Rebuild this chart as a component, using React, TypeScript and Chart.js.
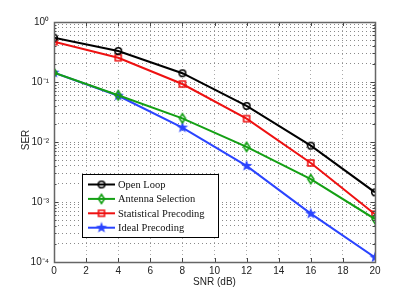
import React, { useEffect, useRef } from "react";
import { Chart, registerables } from "chart.js";
Chart.register(...registerables);

const snr = [0, 4, 8, 12, 16, 20];
const openLoop = [0.547, 0.329, 0.14, 0.04, 0.0087, 0.00145];
const antennaSel = [0.143, 0.06, 0.0248, 0.0083, 0.0024, 0.00052];
const statPrec = [0.47, 0.254, 0.0926, 0.0245, 0.00447, 0.000624];
const idealPrec = [0.143, 0.059, 0.0174, 0.004, 0.00064, 0.000119];
const seriesNames = ["Open Loop", "Antenna Selection", "Statistical Precoding", "Ideal Precoding"];
const xTickValues = [0, 2, 4, 6, 8, 10, 12, 14, 16, 18, 20];
const yDecades = [-4, -3, -2, -1, 0];
const xTitle = "SNR (dB)";
const yTitle = "SER";

const COLORS = ["#000000", "#14a014", "#ee1111", "#2a44ff"];
const SUP: Record<string, string> = {
  "-": "\u207B", "0": "\u2070", "1": "\u00B9", "2": "\u00B2", "3": "\u00B3", "4": "\u2074",
};

function markerCanvas(kind: string, color: string): HTMLCanvasElement {
  const size = 14;
  const c = document.createElement("canvas");
  c.width = size;
  c.height = size;
  const ctx = c.getContext("2d")!;
  const cx = size / 2, cy = size / 2;
  ctx.strokeStyle = color;
  ctx.fillStyle = color;
  ctx.lineWidth = 1.6;
  ctx.beginPath();
  if (kind === "circle") {
    ctx.arc(cx, cy, 3.3, 0, Math.PI * 2);
    ctx.stroke();
  } else if (kind === "diamond") {
    ctx.moveTo(cx, cy - 4.5);
    ctx.lineTo(cx + 3, cy);
    ctx.lineTo(cx, cy + 4.5);
    ctx.lineTo(cx - 3, cy);
    ctx.closePath();
    ctx.stroke();
  } else if (kind === "square") {
    ctx.rect(cx - 3, cy - 3, 6, 6);
    ctx.stroke();
  } else {
    const R = 6, r = 2.4;
    for (let i = 0; i < 10; i++) {
      const ang = -Math.PI / 2 + (i * Math.PI) / 5;
      const rad = i % 2 === 0 ? R : r;
      const px = cx + rad * Math.cos(ang), py = cy + rad * Math.sin(ang);
      if (i === 0) ctx.moveTo(px, py); else ctx.lineTo(px, py);
    }
    ctx.closePath();
    ctx.fill();
  }
  return c;
}

function yTickValuesAll(): number[] {
  const out: number[] = [];
  for (const d of yDecades) {
    const base = Math.pow(10, d);
    if (d === 0) { out.push(1); break; }
    for (let k = 1; k <= 9; k++) out.push(k * base);
  }
  return out;
}

function isDecade(v: number): boolean {
  const l = Math.log10(v);
  return Math.abs(l - Math.round(l)) < 1e-6;
}

function decadeLabel(v: number): string {
  const e = String(Math.round(Math.log10(v)));
  return "10" + e.split("").map((ch) => SUP[ch] || ch).join("");
}

export default function App() {
  const ref = useRef<HTMLCanvasElement | null>(null);
  useEffect(() => {
    document.body.style.margin = "0";
    const markers = [
      markerCanvas("circle", COLORS[0]),
      markerCanvas("diamond", COLORS[1]),
      markerCanvas("square", COLORS[2]),
      markerCanvas("star", COLORS[3]),
    ];
    const seriesData = [openLoop, antennaSel, statPrec, idealPrec];
    const yTicks = yTickValuesAll();

    const framePlugin = {
      id: "frame",
      afterDraw(chart: any) {
        const ctx = chart.ctx as CanvasRenderingContext2D;
        const a = chart.chartArea;
        const xs = chart.scales.x;
        const ys = chart.scales.y;
        ctx.save();
        // inward ticks
        ctx.strokeStyle = "#444";
        ctx.lineWidth = 1;
        ctx.beginPath();
        for (const v of xTickValues) {
          const px = Math.round(xs.getPixelForValue(v)) + 0.5;
          ctx.moveTo(px, a.bottom);
          ctx.lineTo(px, a.bottom - 4);
          ctx.moveTo(px, a.top);
          ctx.lineTo(px, a.top + 4);
        }
        for (const v of yTicks) {
          const py = Math.round(ys.getPixelForValue(v)) + 0.5;
          const len = isDecade(v) ? 4 : 2.5;
          ctx.moveTo(a.left, py);
          ctx.lineTo(a.left + len, py);
          ctx.moveTo(a.right, py);
          ctx.lineTo(a.right - len, py);
        }
        ctx.stroke();
        // box
        ctx.strokeStyle = "#666";
        ctx.lineWidth = 1.5;
        ctx.strokeRect(Math.round(a.left) + 0.5, Math.round(a.top) + 0.5, Math.round(a.right - a.left), Math.round(a.bottom - a.top));

        // titles
        ctx.fillStyle = "#222";
        ctx.font = "10px 'Liberation Sans', Arial, sans-serif";
        ctx.textAlign = "center";
        ctx.textBaseline = "middle";
        ctx.fillText(xTitle, (a.left + a.right) / 2, 282);
        ctx.save();
        ctx.translate(26, 140);
        ctx.rotate(-Math.PI / 2);
        ctx.fillText(yTitle, 0, 0);
        ctx.restore();

        // legend
        const lx = 82, ly = 174, lw = 136, lh = 63;
        ctx.fillStyle = "#fff";
        ctx.fillRect(lx, ly, lw, lh);
        ctx.strokeStyle = "#000";
        ctx.lineWidth = 1;
        ctx.strokeRect(lx + 0.5, ly + 0.5, lw, lh);
        ctx.font = "10.5px 'Liberation Serif', 'Times New Roman', serif";
        ctx.textAlign = "left";
        ctx.textBaseline = "middle";
        for (let i = 0; i < seriesNames.length; i++) {
          const ry = 184.5 + i * 14.4;
          ctx.strokeStyle = COLORS[i];
          ctx.lineWidth = 2;
          ctx.beginPath();
          ctx.moveTo(88, ry);
          ctx.lineTo(115, ry);
          ctx.stroke();
          const m = markers[i];
          ctx.drawImage(m, 101.5 - m.width / 2, ry - m.height / 2);
          ctx.fillStyle = "#111";
          ctx.fillText(seriesNames[i], 118, ry + 0.5);
        }
        ctx.restore();
      },
    };

    const chart = new Chart(ref.current!, {
      type: "line",
      data: {
        datasets: seriesNames.map((name, i) => ({
          label: name,
          data: snr.map((x, j) => ({ x, y: seriesData[i][j] })),
          borderColor: COLORS[i],
          backgroundColor: COLORS[i],
          borderWidth: 2,
          pointStyle: markers[i] as any,
          pointRadius: 5,
          tension: 0,
        })),
      },
      options: {
        animation: false,
        responsive: false,
        maintainAspectRatio: false,
        devicePixelRatio: 1,
        layout: { padding: { left: 0, right: 40, top: 22, bottom: 0 } },
        plugins: { legend: { display: false }, tooltip: { enabled: false } },
        scales: {
          x: {
            type: "linear",
            min: 0,
            max: 20,
            afterBuildTicks: (s: any) => {
              s.ticks = xTickValues.map((v) => ({ value: v }));
            },
            afterFit: (s: any) => {
              s.height = 34;
            },
            ticks: {
              autoSkip: false,
              maxRotation: 0,
              padding: 3,
              color: "#222",
              font: { family: "'Liberation Sans', Arial, sans-serif", size: 10 },
              callback: (v: any) => String(v),
            },
            grid: { color: "#aaaaaa", lineWidth: 1, drawTicks: false },
            border: { display: false, dash: [1, 3] },
          },
          y: {
            type: "logarithmic",
            min: 1e-4,
            max: 1,
            afterBuildTicks: (s: any) => {
              s.ticks = yTicks.map((v) => ({ value: v, major: isDecade(v) }));
            },
            afterFit: (s: any) => {
              s.width = 54;
            },
            ticks: {
              autoSkip: false,
              padding: 5,
              color: "#222",
              font: { family: "'Liberation Sans', Arial, sans-serif", size: 10 },
              callback: (v: any) => (isDecade(Number(v)) ? decadeLabel(Number(v)) : ""),
            },
            grid: { color: "#8a8a8a", lineWidth: 1, drawTicks: false },
            border: { display: false, dash: [1, 3] },
          },
        },
      },
      plugins: [framePlugin],
    } as any);
    return () => chart.destroy();
  }, []);
  return (
    <div style={{ width: 415, height: 296, background: "#fff" }}>
      <canvas ref={ref} width={415} height={296} style={{ display: "block" }} />
    </div>
  );
}
